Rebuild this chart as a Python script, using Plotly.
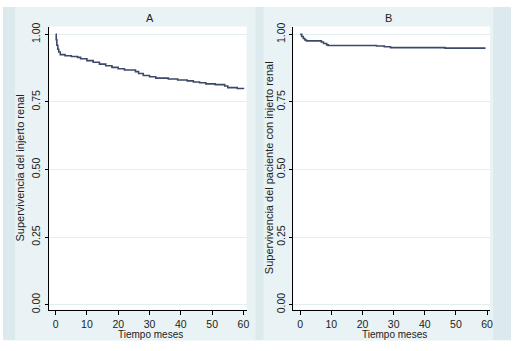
import plotly.graph_objects as go

W, H = 527, 351

# ---- data ----
time_a = [0, 0.2, 0.4, 0.7, 1.0, 1.5, 3, 5, 7, 8, 10, 12, 14, 16, 18, 20, 22,
          25.5, 26.5, 28, 30, 32, 36, 39, 42, 44, 46, 48, 51, 54, 55, 58, 60]
surv_a = [1.0, 0.98, 0.96, 0.945, 0.935, 0.925, 0.921, 0.918, 0.915, 0.910,
          0.903, 0.897, 0.890, 0.884, 0.878, 0.873, 0.868, 0.862, 0.855, 0.848,
          0.843, 0.838, 0.835, 0.831, 0.828, 0.824, 0.821, 0.817, 0.814, 0.809,
          0.803, 0.800, 0.798]

time_b = [0, 0.5, 1, 1.5, 2, 6.8, 7.5, 8.5, 9, 24.5, 27, 29, 46.5, 59.5]
surv_b = [1.0, 0.992, 0.985, 0.979, 0.976, 0.972, 0.966, 0.961, 0.959, 0.957,
          0.954, 0.951, 0.949, 0.949]

x_ticks = [0, 10, 20, 30, 40, 50, 60]
y_ticks = [0.0, 0.25, 0.5, 0.75, 1.0]
y_tick_text = ["0.00", "0.25", "0.50", "0.75", "1.00"]

panel_titles = ["A", "B"]
x_title = "Tiempo meses"
y_titles = ["Supervivencia del injerto renal",
            "Supervivencia del paciente con injerto renal"]

# ---- layout helpers ----
def px(x):
    return x / W

def py(y):
    return 1 - y / H

LINE = "#3b4a68"
OUTER = "#dceaed"
INNER = "#e9f2f4"
GRID = "#e3eef1"
FONT = "Liberation Sans, Arial, sans-serif"

fig = go.Figure()
fig.add_trace(go.Scatter(x=time_a, y=surv_a, mode="lines", line_shape="hv",
                         line=dict(color=LINE, width=1.6), xaxis="x", yaxis="y",
                         showlegend=False))
fig.add_trace(go.Scatter(x=time_b, y=surv_b, mode="lines", line_shape="hv",
                         line=dict(color=LINE, width=1.6), xaxis="x2", yaxis="y2",
                         showlegend=False))

plots = [(49, 248), (295, 493)]
top, bottom = 23, 312
xr = [-2.2, 61.0]
yr = [-0.019, 1.029]

def xa(dom):
    return dict(domain=[px(dom[0]), px(dom[1])], range=xr, tickvals=x_ticks,
                ticks="outside", ticklen=4, tickcolor="black", tickwidth=1,
                showline=True, linecolor="black", linewidth=1.3,
                showgrid=False, zeroline=False,
                tickfont=dict(family=FONT, size=10.5, color="#222"))

def ya():
    return dict(domain=[py(bottom), py(top)], range=yr, tickvals=y_ticks,
                ticktext=y_tick_text, tickangle=-90,
                ticks="outside", ticklen=3, tickcolor="black", tickwidth=1,
                showline=True, linecolor="black", linewidth=1.3,
                showgrid=True, gridcolor=GRID, gridwidth=1, zeroline=False,
                tickfont=dict(family=FONT, size=10.5, color="#222"))

shapes = [
    dict(type="rect", xref="paper", yref="paper", x0=px(3), x1=px(514),
         y0=py(343), y1=py(3), fillcolor=OUTER, line=dict(width=0), layer="below"),
    dict(type="rect", xref="paper", yref="paper", x0=px(15), x1=px(257),
         y0=py(343), y1=py(3), fillcolor=INNER, line=dict(width=0), layer="below"),
    dict(type="rect", xref="paper", yref="paper", x0=px(265), x1=px(496),
         y0=py(343), y1=py(3), fillcolor=INNER, line=dict(width=0), layer="below"),
]
for (l, r) in plots:
    shapes.append(dict(type="rect", xref="paper", yref="paper", x0=px(l), x1=px(r),
                       y0=py(bottom), y1=py(top), fillcolor="white",
                       line=dict(width=0), layer="below"))

annotations = []
title_x = [151, 391]
xt_x = [151, 397]
yt_x = [20, 270]
for i in range(2):
    annotations.append(dict(text=panel_titles[i], xref="paper", yref="paper",
                            x=px(title_x[i]), y=py(14), showarrow=False,
                            xanchor="center", yanchor="middle",
                            font=dict(family=FONT, size=11, color="#222")))
    annotations.append(dict(text=x_title, xref="paper", yref="paper",
                            x=px(xt_x[i]), y=py(337), showarrow=False,
                            xanchor="center", yanchor="middle",
                            font=dict(family=FONT, size=10, color="#222")))
    annotations.append(dict(text=y_titles[i], xref="paper", yref="paper",
                            x=px(yt_x[i]), y=py(167), showarrow=False,
                            textangle=-90, xanchor="center", yanchor="middle",
                            font=dict(family=FONT, size=11, color="#222")))

fig.update_layout(
    width=W, height=H, margin=dict(l=0, r=0, t=0, b=0),
    paper_bgcolor="white", plot_bgcolor="white",
    xaxis=dict(xa(plots[0]), anchor="y"),
    yaxis=dict(ya(), anchor="x"),
    xaxis2=dict(xa(plots[1]), anchor="y2"),
    yaxis2=dict(ya(), anchor="x2"),
    shapes=shapes, annotations=annotations, showlegend=False,
)

fig.write_html("out.html", config={"displayModeBar": False},
               post_script="document.body.style.margin='0';"
                           "document.body.style.overflow='hidden';")
